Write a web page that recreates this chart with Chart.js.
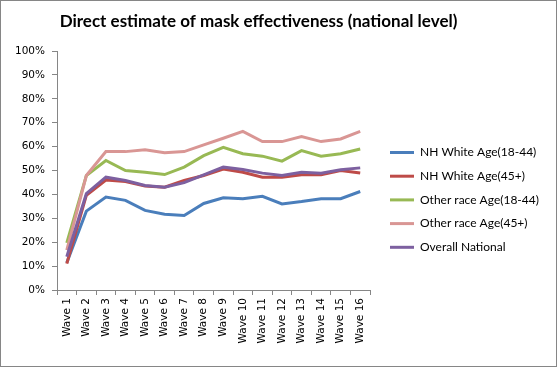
<!DOCTYPE html>
<html>
<head>
<meta charset="utf-8">
<script src="https://cdn.jsdelivr.net/npm/chart.js@4"></script>
<style>
  body{margin:0;background:#fff;}
  canvas{display:block;}
</style>
</head>
<body>
<canvas id="myChart" width="557" height="367"></canvas>
<script>
const waves=['Wave 1','Wave 2','Wave 3','Wave 4','Wave 5','Wave 6','Wave 7','Wave 8',
    'Wave 9','Wave 10','Wave 11','Wave 12','Wave 13','Wave 14','Wave 15','Wave 16'];

const nhWhiteYoung=[11.4,33,38.9,37.5,33.3,31.7,31.2,36.2,38.6,38.2,39.2,36,37,38.2,38.2,41.2];
const nhWhiteOld=[11,39.6,46,45.4,43.5,43,45.8,47.9,50.6,49.3,47.2,47.2,48.2,48.2,50,49];
const otherYoung=[19.7,47.9,54.2,50,49.3,48.3,51.4,56.2,59.7,57,56,53.9,58.3,56,57,59];
const otherOld=[16.7,47.9,57.9,57.9,58.7,57.4,57.9,60.7,63.5,66.4,62.1,62.1,64.2,62.1,63.2,66.4];
const overall=[13.9,40.3,47.2,45.8,43.7,43,44.9,48.2,51.4,50.4,48.9,47.9,49.3,48.9,50.3,51.1];

const seriesNames=['NH White Age(18-44)','NH White Age(45+)','Other race Age(18-44)','Other race Age(45+)','Overall National'];
const seriesColors=['#4A7EBB','#BE4B48','#98B954','#D99694','#7D60A0'];
const yTicks=[0,10,20,30,40,50,60,70,80,90,100];

const titleText='Direct estimate of mask effectiveness (national level)';
const axisGray='#868686';

// frame, title and legend drawn by hand so they sit where the excel chart had them
const decorations={
    id:'decorations',
    beforeDraw(chart){
        const ctx=chart.ctx;
        ctx.save();
        ctx.fillStyle='#fff';
        ctx.fillRect(0,0,chart.width,chart.height);
        ctx.restore();
    },
    afterDraw(chart){
        const ctx=chart.ctx;
        ctx.save();
        ctx.strokeStyle=axisGray;
        ctx.lineWidth=1;
        ctx.strokeRect(0.5,0.5,chart.width-1,chart.height-1);

        ctx.fillStyle='#000';
        ctx.font='bold 17px Lato';
        ctx.textAlign='center';
        ctx.textBaseline='middle';
        ctx.fillText(titleText,258.5,22);

        ctx.font='12px Lato';
        ctx.textAlign='left';
        chart.data.datasets.forEach((ds,i)=>{
            const y=152.5+i*23.7;
            ctx.strokeStyle=ds.borderColor;
            ctx.lineWidth=3;
            ctx.beginPath();
            ctx.moveTo(390,y);
            ctx.lineTo(414,y);
            ctx.stroke();
            ctx.fillStyle='#000';
            ctx.fillText(ds.label,420,y);
        });
        ctx.restore();
    }
};

const allSeries=[nhWhiteYoung,nhWhiteOld,otherYoung,otherOld,overall];

new Chart(document.getElementById('myChart').getContext('2d'),{
    type:'line',
    data:{
        labels:waves,
        datasets:allSeries.map((vals,i)=>({
            label:seriesNames[i],
            data:vals,
            borderColor:seriesColors[i],
            backgroundColor:seriesColors[i],
            borderWidth:3,
            pointRadius:0,
            tension:0,
            order:allSeries.length-i
        }))
    },
    options:{
        responsive:false,
        animation:false,
        devicePixelRatio:1,
        layout:{padding:{top:51,left:0,right:187,bottom:0}},
        plugins:{legend:{display:false},title:{display:false},tooltip:{enabled:false}},
        scales:{
            x:{
                offset:true,
                grid:{offset:true,drawOnChartArea:false,drawTicks:true,tickLength:5,color:axisGray},
                border:{color:axisGray},
                ticks:{minRotation:90,maxRotation:90,autoSkip:false,color:'#000',font:{family:'DejaVu Sans',size:10.5},padding:3},
                afterFit(scale){scale.height=77;}
            },
            y:{
                min:0,max:100,
                afterBuildTicks(scale){scale.ticks=yTicks.map(v=>({value:v}));},
                grid:{drawOnChartArea:false,drawTicks:true,tickLength:5,color:axisGray},
                border:{color:axisGray},
                ticks:{color:'#000',font:{family:'DejaVu Sans',size:10.5},padding:7,callback:v=>v+'%'},
                afterFit(scale){scale.width=57;}
            }
        }
    },
    plugins:[decorations]
});
</script>
</body>
</html>
